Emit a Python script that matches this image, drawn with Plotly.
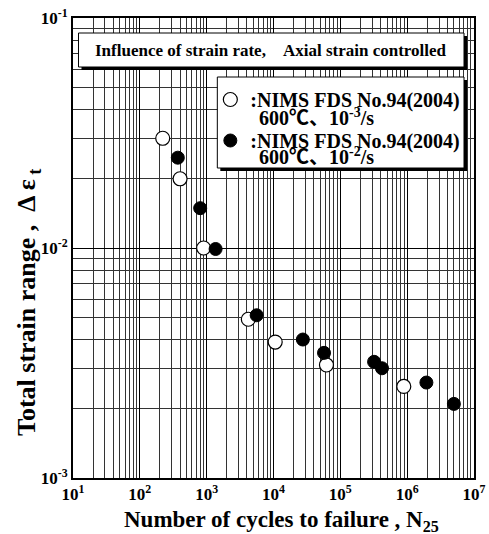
import plotly.graph_objects as go

# Data
open_N = [220, 400, 900, 4200, 10600, 62000, 890000]
open_eps = [0.030, 0.020, 0.010, 0.0049, 0.0039, 0.0031, 0.0025]

fill_N = [370, 800, 1360, 5600, 27500, 57000, 320000, 420000, 1940000, 5000000]
fill_eps = [0.0247, 0.0149, 0.0099, 0.0051, 0.0040, 0.0035, 0.0032, 0.0030, 0.0026, 0.0021]

x_tickvals = [1e1, 1e2, 1e3, 1e4, 1e5, 1e6, 1e7]
x_ticktext = ["10<sup>1</sup>", "10<sup>2</sup>", "10<sup>3</sup>", "10<sup>4</sup>",
              "10<sup>5</sup>", "10<sup>6</sup>", "10<sup>7</sup>"]
y_tickvals = [1e-3, 1e-2, 1e-1]
y_ticktext = ["10<sup>-3</sup>", "10<sup>-2</sup>", "10<sup>-1</sup>"]

legend_open = ":NIMS FDS No.94(2004)"
legend_fill = ":NIMS FDS No.94(2004)"
legend_open_2 = "600℃、10<sup>-3</sup>/s"
legend_fill_2 = "600℃、10<sup>-2</sup>/s"
title_text = "Influence of strain rate,　Axial strain controlled"
x_title = "Number of cycles to failure , N<sub>25</sub>"
y_title = "Total strain range ,  Δ ε<sub> t</sub>"

FONT = "Liberation Serif, Times New Roman, Noto Sans CJK JP, serif"

W, H = 489, 534
L, R, T, B = 72.5, 474, 18, 478  # plot area in pixels


def px(x):
    return (x - L) / (R - L)


def py(y):
    return (B - y) / (B - T)


fig = go.Figure()
fig.add_trace(go.Scatter(
    x=open_N, y=open_eps, mode="markers", name=legend_open, legendgroup="a",
    marker=dict(symbol="circle", size=14, color="white",
                line=dict(color="black", width=1.2)),
))
fig.add_trace(go.Scatter(
    x=fill_N, y=fill_eps, mode="markers", name=legend_fill, legendgroup="b",
    marker=dict(symbol="circle", size=13, color="black",
                line=dict(color="black", width=1)),
))

shapes = []
# title box with shadow
tb = (78, 33, 464, 67)
shapes.append(dict(type="rect", xref="paper", yref="paper",
                   x0=px(tb[0] + 3), x1=px(tb[2] + 3), y0=py(tb[3] + 3), y1=py(tb[1] + 3),
                   fillcolor="black", line=dict(width=0), layer="above"))
shapes.append(dict(type="rect", xref="paper", yref="paper",
                   x0=px(tb[0]), x1=px(tb[2]), y0=py(tb[3]), y1=py(tb[1]),
                   fillcolor="white", line=dict(color="black", width=1), layer="above"))
# legend box with shadow
lb = (217, 77, 464, 168)
shapes.append(dict(type="rect", xref="paper", yref="paper",
                   x0=px(lb[0] + 3), x1=px(lb[2] + 3), y0=py(lb[3] + 3), y1=py(lb[1] + 3),
                   fillcolor="black", line=dict(width=0), layer="above"))
shapes.append(dict(type="rect", xref="paper", yref="paper",
                   x0=px(lb[0]), x1=px(lb[2]), y0=py(lb[3]), y1=py(lb[1]),
                   fillcolor="white", line=dict(color="black", width=1), layer="above"))

annotations = [
    dict(text=title_text, xref="paper", yref="paper", x=px((tb[0] + tb[2]) / 2),
         y=py((tb[1] + tb[3]) / 2), xanchor="center", yanchor="middle", showarrow=False,
         font=dict(family=FONT, size=17, color="black", weight="bold")),
    dict(text=legend_open_2, xref="paper", yref="paper", x=px(257), y=py(117),
         xanchor="left", yanchor="middle", showarrow=False,
         font=dict(family=FONT, size=20, color="black", weight="bold")),
    dict(text=legend_fill_2, xref="paper", yref="paper", x=px(257), y=py(156),
         xanchor="left", yanchor="middle", showarrow=False,
         font=dict(family=FONT, size=20, color="black", weight="bold")),
    dict(text=x_title, xref="paper", yref="paper", x=px(281), y=py(521),
         xanchor="center", yanchor="middle", showarrow=False,
         font=dict(family=FONT, size=23, color="black", weight="bold")),
    dict(text=y_title, xref="paper", yref="paper", x=px(27), y=py(438),
         xanchor="center", yanchor="bottom", showarrow=False, textangle=-90,
         font=dict(family=FONT, size=26, color="black", weight="bold")),
]

axis_common = dict(
    type="log", showline=True, linecolor="black", linewidth=2, mirror=True,
    showgrid=True, gridcolor="black", gridwidth=1, zeroline=False, ticks="",
    tickfont=dict(family=FONT, size=17, color="black", weight="bold"),
    minor=dict(dtick="D1", showgrid=True, gridcolor="#333333", gridwidth=1, ticks=""),
)

fig.update_layout(
    width=W, height=H,
    margin=dict(l=L, r=W - R, t=T, b=H - B, autoexpand=False),
    paper_bgcolor="white", plot_bgcolor="white",
    showlegend=True,
    legend=dict(x=px(210), y=py(80), xanchor="left", yanchor="top",
                bgcolor="rgba(0,0,0,0)", borderwidth=0, traceorder="grouped",
                tracegroupgap=12,
                font=dict(family=FONT, size=20, color="black", weight="bold"),
                itemwidth=30),
    xaxis=dict(axis_common, range=[1, 7], tickvals=x_tickvals, ticktext=x_ticktext),
    yaxis=dict(axis_common, range=[-3, -1], tickvals=y_tickvals, ticktext=y_ticktext),
    shapes=shapes, annotations=annotations,
)

fig.write_html("out.html", config={"displayModeBar": False},
               post_script="document.body.style.margin='0px';")
